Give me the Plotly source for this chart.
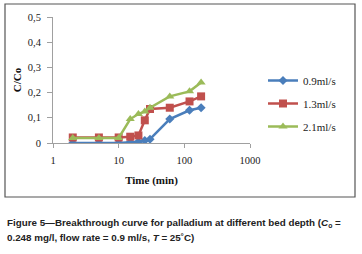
import plotly.graph_objects as go

time_min = [2, 5, 10, 15, 20, 25, 30, 60, 120, 180]
c_09 = [0.0, 0.0, 0.0, 0.003, 0.005, 0.01, 0.015, 0.095, 0.13, 0.14]
c_13 = [0.022, 0.022, 0.022, 0.025, 0.03, 0.09, 0.135, 0.14, 0.165, 0.185]
c_21 = [0.02, 0.02, 0.02, 0.095, 0.115, 0.125, 0.14, 0.185, 0.205, 0.24]
series_names = ["0.9ml/s", "1.3ml/s", "2.1ml/s"]
y_ticks = [0, 0.1, 0.2, 0.3, 0.4, 0.5]
y_tick_labels = ["0", "0,1", "0,2", "0,3", "0,4", "0,5"]
x_ticks = [1, 10, 100, 1000]
x_tick_labels = ["1", "10", "100", "1000"]

colors = ["#4A7EBB", "#C0504D", "#9BBB59"]
symbols = ["diamond", "square", "triangle-up"]
sizes = [7, 8, 8]

W, H = 362, 254
x0, x1 = 53, 250
y_top, y_bot = 17, 143

fig = go.Figure()
for i, (name, vals) in enumerate(zip(series_names, [c_09, c_13, c_21])):
    fig.add_trace(go.Scatter(
        x=time_min, y=vals, name=name, mode="lines+markers",
        line=dict(color=colors[i], width=2.5),
        marker=dict(symbol=symbols[i], size=sizes[i], color=colors[i]),
        legendgroup=name,
    ))

serif = "Liberation Serif, DejaVu Serif, serif"
sans = "Liberation Sans, Arial, sans-serif"
fig.update_layout(
    width=W, height=H,
    margin=dict(l=0, r=0, t=0, b=0),
    paper_bgcolor="white", plot_bgcolor="white",
    xaxis=dict(
        type="log", range=[0, 3], domain=[x0 / W, x1 / W],
        tickvals=x_ticks, ticktext=x_tick_labels,
        showgrid=False, zeroline=False, showline=True, linecolor="#A0A0A0", linewidth=1,
        ticks="outside", ticklen=4, tickcolor="#A0A0A0", ticklabelstandoff=3,
        tickfont=dict(family=serif, size=10.5, color="#222"),
        title=dict(text="<b>Time (min)</b>", font=dict(family=serif, size=11, color="#111"), standoff=11),
        automargin=False,
    ),
    yaxis=dict(
        range=[0, 0.5], domain=[(H - y_bot) / H, (H - y_top) / H],
        tickvals=y_ticks, ticktext=y_tick_labels,
        showgrid=False, zeroline=False, showline=True, linecolor="#A0A0A0", linewidth=1,
        ticks="outside", ticklen=5, tickcolor="#A0A0A0", ticklabelstandoff=4,
        tickfont=dict(family=serif, size=10.5, color="#222"),
        title=dict(text="<b>C/Co</b>", font=dict(family=serif, size=11, color="#111"), standoff=3),
        automargin=False,
    ),
    legend=dict(
        x=263 / W, y=(H - 66) / H, xanchor="left", yanchor="top",
        font=dict(family=serif, size=11, color="#222"),
        tracegroupgap=4, itemwidth=30, bgcolor="rgba(0,0,0,0)",
    ),
    showlegend=True,
    shapes=[dict(type="rect", xref="paper", yref="paper",
                 x0=5 / W, x1=355 / W, y0=(H - 197) / H, y1=(H - 4) / H,
                 line=dict(color="#555", width=1.2))],
    annotations=[
        dict(xref="paper", yref="paper", x=5 / W, y=(H - 223) / H, xanchor="left", yanchor="middle",
             showarrow=False, align="left",
             text="<b>Figure 5\u2014Breakthrough curve for palladium at different bed depth (<i>C</i><sub>o</sub> =</b>",
             font=dict(family=sans, size=9.8, color="#222")),
        dict(xref="paper", yref="paper", x=5 / W, y=(H - 237) / H, xanchor="left", yanchor="middle",
             showarrow=False, align="left",
             text="<b>0.248 mg/l, flow rate = 0.9 ml/s, <i>T</i> = 25\u02daC)</b>",
             font=dict(family=sans, size=9.8, color="#222")),
    ],
)

fig.write_html("out.html", config={"displayModeBar": False},
               post_script="document.body.style.margin='0';document.body.style.padding='0';")
